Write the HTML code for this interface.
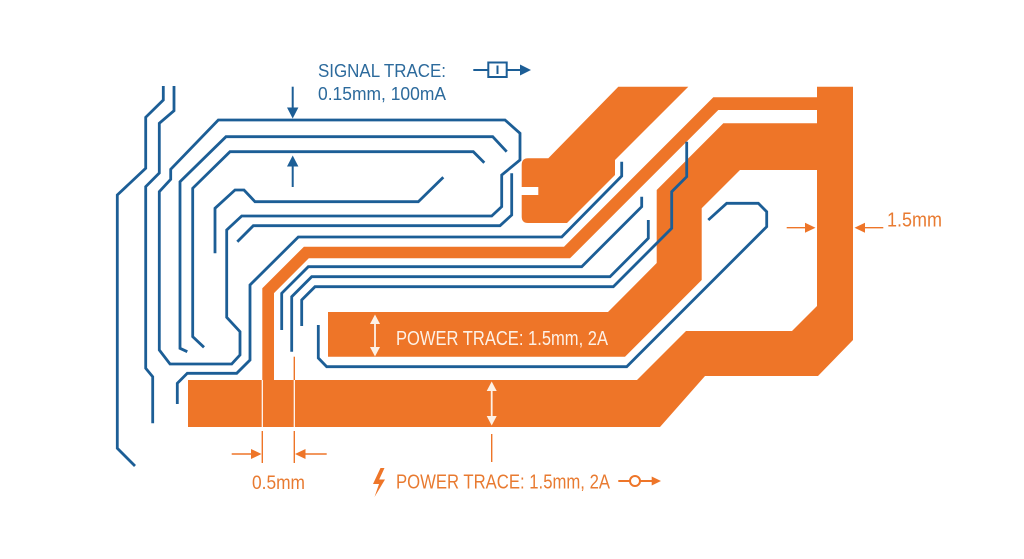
<!DOCTYPE html>
<html>
<head>
<meta charset="utf-8">
<style>
  html,body{margin:0;padding:0;background:#ffffff;}
  body{width:1024px;height:559px;overflow:hidden;}
  svg{display:block;}
  text{font-family:"Liberation Sans", "DejaVu Sans", sans-serif;}
</style>
</head>
<body>
<svg width="1024" height="559" viewBox="0 0 1024 559" xmlns="http://www.w3.org/2000/svg">
  <rect x="0" y="0" width="1024" height="559" fill="#ffffff"/>

  <!-- ORANGE COPPER -->
  <g fill="#EE7528" stroke="none">
    <!-- bottom bar + diagonal + right bar -->
    <polygon points="188,380 637,380 686,331 792,331 817,306 817,86.7 853,86.7 853,340 818,376 705,376 660,427 188,427"/>
    <!-- thick band + label band -->
    <polygon points="328,312 608,312 656.7,263 656.7,190 723.3,123.3 817,123.3 817,170 740,170 701.7,208.3 701.7,280 625,356.7 328,356.7"/>
    <!-- narrow stripe -->
    <polygon points="262.3,380 262.3,288.3 303.9,246.7 564,246.7 713.3,97.3 817,97.3 817,110 718.3,110 570,258.3 308.8,258.3 274,293.1 274,380"/>
    <!-- pad with notch -->
    <path d="M548.3,158.3 L618.3,86.7 L688.3,86.7 L615,160 L615,175 L567,223 L528,223 Q521.7,223 521.7,216.5 L521.7,195 L538.3,195 L538.3,187 L521.7,187 L521.7,165 Q521.7,158.3 528,158.3 Z"/>
  </g>

  <!-- BLUE SIGNAL TRACES -->
  <g fill="none" stroke="#1C5E96" stroke-width="2.8" stroke-linejoin="miter" stroke-linecap="butt">
    <polyline points="163.3,86 163.3,100 145.7,117.3 145.7,168.3 117.3,195 117.3,448.3 135,466"/>
    <polyline points="174,86 174,110.7 159.3,123.3 159.3,173 145.7,186.7 145.7,368.3 152.7,376.7 152.7,423.3"/>
    <polygon points="218.3,120 505,120 520,133.3 520,160 501.7,175 501.7,206.7 491.7,216 241.7,216 226.7,230 226.7,317.3 240,331.7 240,355 231.7,364 170,364 159.3,350 159.3,191.7 170.7,179.3 170.7,169.3"/>
    <polyline points="187.3,351.7 180,348.3 180,181.7 226,136.7 492.7,136.7 506.7,151.7"/>
    <polyline points="204,347.3 192.7,336.7 192.7,188.3 230,151.7 473.3,151.7 484.3,162.7"/>
    <polyline points="443.3,177.3 418.3,201.7 255,201.7 244,190 235,190 215,208.3 215,253.3"/>
    <polyline points="237.3,241.7 253.3,225.7 500,225.7 511.7,215 511.7,173.3"/>
    <polyline points="177.3,404 177.3,383.3 187.3,373.3 236.7,373.3 250,360 250,285 298.3,237 561.7,237 621.7,176 621.7,161.7"/>
    <polyline points="281.7,330 281.7,293.3 308.3,266.7 581.7,266.7 641.7,206.7 641.7,196.7"/>
    <polyline points="291.7,351.7 291.7,296.7 311.7,276.7 610,276.7 648.3,238.3 648.3,220"/>
    <polyline points="301.7,326 301.7,300 315,286.7 613.3,286.7 671.7,228.3 671.7,191.7 686.7,176.7 686.7,141.7"/>
    <polyline points="318.3,325 318.3,358 326.7,366.7 626.7,366.7 766.7,226.7 766.7,211.7 758.3,203.3 726.7,203.3 708.3,220"/>
  </g>

  <!-- signal width dimension arrows -->
  <g stroke="#1C5E96" stroke-width="2" fill="#1C5E96">
    <line x1="292.7" y1="86.7" x2="292.7" y2="109"/>
    <polygon points="287,107.5 298.4,107.5 292.7,118.5" stroke="none"/>
    <line x1="292.7" y1="187" x2="292.7" y2="165"/>
    <polygon points="287,166.5 298.4,166.5 292.7,155.5" stroke="none"/>
  </g>

  <!-- signal label + symbol -->
  <text x="318" y="77" font-size="18.5" fill="#2C6A9C" textLength="128" lengthAdjust="spacingAndGlyphs">SIGNAL TRACE:</text>
  <text x="318" y="100" font-size="18.5" fill="#2C6A9C" textLength="128" lengthAdjust="spacingAndGlyphs">0.15mm, 100mA</text>
  <g stroke="#1C5E96" stroke-width="2" fill="none">
    <line x1="473.3" y1="70" x2="488.3" y2="70"/>
    <rect x="488.3" y="62.5" width="18.4" height="14.5"/>
    <line x1="497.5" y1="65.5" x2="497.5" y2="74"/>
    <line x1="506.7" y1="70" x2="521" y2="70"/>
  </g>
  <polygon points="520,64.5 531,70 520,75.5" fill="#1C5E96"/>

  <!-- power label in band -->
  <g stroke="#FDF1E6" stroke-width="1.8" fill="#FDF1E6">
    <line x1="375" y1="322" x2="375" y2="349"/>
    <polygon points="370,324 380,324 375,314.5" stroke="none"/>
    <polygon points="370,347 380,347 375,356.5" stroke="none"/>
    <line x1="491.7" y1="389" x2="491.7" y2="418"/>
    <polygon points="486.7,391 496.7,391 491.7,381.5" stroke="none"/>
    <polygon points="486.7,416 496.7,416 491.7,425.5" stroke="none"/>
  </g>
  <text x="396" y="345" font-size="20" fill="#FDF1E6" textLength="212" lengthAdjust="spacingAndGlyphs">POWER TRACE: 1.5mm, 2A</text>

  <!-- 0.5mm dimension -->
  <g stroke="#FFFFFF" stroke-width="1.2">
    <line x1="262.3" y1="380" x2="262.3" y2="427"/>
    <line x1="294.3" y1="380" x2="294.3" y2="427"/>
  </g>
  <g stroke="#EE7528" stroke-width="1.4" fill="#EE7528">
    <line x1="294.3" y1="356.7" x2="294.3" y2="380"/>
    <line x1="262.3" y1="431" x2="262.3" y2="463"/>
    <line x1="294.3" y1="431" x2="294.3" y2="463"/>
    <line x1="231.7" y1="454" x2="253" y2="454"/>
    <polygon points="251,449 261.5,454 251,459" stroke="none"/>
    <line x1="326.7" y1="454" x2="304" y2="454"/>
    <polygon points="305.5,449 295,454 305.5,459" stroke="none"/>
    <line x1="491.7" y1="434" x2="491.7" y2="462"/>
    <!-- 1.5mm right -->
    <line x1="786.7" y1="227.7" x2="806" y2="227.7"/>
    <polygon points="805,222.7 815.5,227.7 805,232.7" stroke="none"/>
    <line x1="883.3" y1="227.7" x2="864" y2="227.7"/>
    <polygon points="865,222.7 854.5,227.7 865,232.7" stroke="none"/>
  </g>
  <text x="252" y="489" font-size="19" fill="#E87A30" textLength="53" lengthAdjust="spacingAndGlyphs">0.5mm</text>
  <text x="887" y="226.7" font-size="20" fill="#E87A30" textLength="55" lengthAdjust="spacingAndGlyphs">1.5mm</text>

  <!-- bottom power label -->
  <polygon points="380.5,468 373,484 379,484 374.5,497 385,479.5 379.2,479.5 384.5,468" fill="#EE7528"/>
  <text x="396" y="488.5" font-size="20.5" fill="#E87A30" textLength="214" lengthAdjust="spacingAndGlyphs">POWER TRACE: 1.5mm, 2A</text>
  <g stroke="#EE7528" stroke-width="2" fill="none">
    <line x1="618.3" y1="481" x2="630" y2="481"/>
    <circle cx="635" cy="481" r="5"/>
    <line x1="640" y1="481" x2="653" y2="481"/>
  </g>
  <polygon points="651.7,476.5 661,481 651.7,485.5" fill="#EE7528"/>
</svg>
</body>
</html>
